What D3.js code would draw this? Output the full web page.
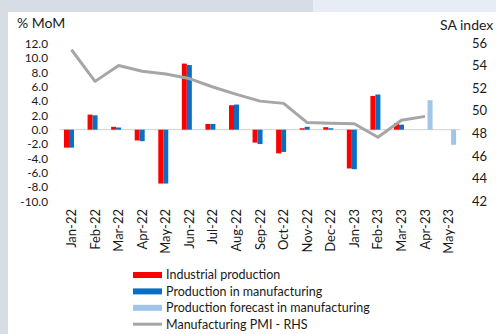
<!DOCTYPE html>
<html>
<head>
<meta charset="utf-8">
<script src="https://cdn.jsdelivr.net/npm/d3@7/dist/d3.min.js"></script>
<style>
  html, body { margin: 0; padding: 0; background: #d6dde5; }
  svg { display: block; font-family: Lato, "Open Sans", sans-serif; }
</style>
</head>
<body>
<svg id="chart" width="496" height="334"></svg>
<script>
// Monthly categories
const months = ["Jan-22","Feb-22","Mar-22","Apr-22","May-22","Jun-22","Jul-22","Aug-22",
                "Sep-22","Oct-22","Nov-22","Dec-22","Jan-23","Feb-23","Mar-23","Apr-23","May-23"];

// % MoM changes (left axis)
const industrial    = [-2.5, 2.1, 0.4, -1.5, -7.5, 9.2, 0.8, 3.4, -1.8, -3.3, 0.2, 0.35, -5.4, 4.7, 0.9, null, null];
const manufacturing = [-2.5, 2.0, 0.3, -1.6, -7.5, 9.0, 0.8, 3.5, -2.0, -3.1, 0.4, 0.2, -5.5, 4.9, 0.7, null, null];
const forecast      = [null, null, null, null, null, null, null, null, null, null, null, null, null, null, null, 4.1, -2.1];

// Manufacturing PMI, SA index (right axis)
const pmi = [55.4, 52.6, 54.0, 53.5, 53.25, 52.85, 52.1, 51.45, 50.85, 50.65, 48.95, 48.9, 48.85, 47.65, 49.15, 49.5, null];

// Axis ticks
const leftTicks  = [-10, -8, -6, -4, -2, 0, 2, 4, 6, 8, 10, 12];
const rightTicks = [42, 44, 46, 48, 50, 52, 54, 56];

const seriesKeys   = ["industrial", "manufacturing", "forecast"];
const seriesData   = { industrial, manufacturing, forecast };
const seriesColors = { industrial: "#ff0000", manufacturing: "#0a6fc2", forecast: "#9fc5e8" };

const legendItems = [
  { label: "Industrial production",               color: "#ff0000", type: "bar" },
  { label: "Production in manufacturing",          color: "#0a6fc2", type: "bar" },
  { label: "Production forecast in manufacturing", color: "#9fc5e8", type: "bar" },
  { label: "Manufacturing PMI - RHS",              color: "#a6a6a6", type: "line" }
];

const svg = d3.select("#chart");

// Page backdrop and white panel
svg.append("rect").attr("x", 313).attr("y", 0).attr("width", 183).attr("height", 12).attr("fill", "#e8edf5");
svg.append("rect").attr("x", 8).attr("y", 12).attr("width", 488).attr("height", 322).attr("fill", "#ffffff");

// Scales
const x = d3.scaleBand().domain(months).range([59.7, 460.4]).padding(0);
const xs = d3.scaleBand().domain(seriesKeys).range([0, x.bandwidth()]).paddingInner(0).paddingOuter(0.86);
const y  = d3.scaleLinear().domain([-10, 12]).range([201.5, 43.5]);
const y2 = d3.scaleLinear().domain([42, 56]).range([201, 43]);

const tickFont = 11.8;
const font = 13;

// Left axis
const yAxis = d3.axisLeft(y).tickValues(leftTicks).tickSize(0).tickPadding(0)
  .tickFormat(d => d.toFixed(1));
const gy = svg.append("g").attr("transform", "translate(48,0)").call(yAxis);
gy.select(".domain").remove();
gy.selectAll("text").attr("font-size", tickFont).attr("fill", "#1a1a1a").attr("font-family", "Lato, sans-serif");

// Right axis
const y2Axis = d3.axisRight(y2).tickValues(rightTicks).tickSize(0).tickPadding(0);
const gy2 = svg.append("g").attr("transform", "translate(472,0)").call(y2Axis);
gy2.select(".domain").remove();
gy2.selectAll("text").attr("font-size", 13).attr("fill", "#1a1a1a").attr("font-family", "Lato, sans-serif");

// Axis titles
svg.append("text").attr("x", 17).attr("y", 28).attr("font-size", 14).attr("fill", "#1a1a1a").text("% MoM");
svg.append("text").attr("x", 440).attr("y", 30).attr("font-size", 14).attr("fill", "#1a1a1a").text("SA index");

// Zero line
svg.append("line")
  .attr("x1", x.range()[0]).attr("x2", x.range()[1])
  .attr("y1", y(0)).attr("y2", y(0))
  .attr("stroke", "#d9d9d9").attr("stroke-width", 1.2);

// Bars
seriesKeys.forEach(key => {
  svg.append("g").selectAll("rect")
    .data(months.map((m, i) => ({ m, v: seriesData[key][i] })).filter(d => d.v !== null))
    .join("rect")
    .attr("x", d => x(d.m) + xs(key))
    .attr("width", xs.bandwidth())
    .attr("y", d => y(Math.max(0, d.v)))
    .attr("height", d => Math.abs(y(d.v) - y(0)))
    .attr("fill", seriesColors[key]);
});

// PMI line
const line = d3.line()
  .defined(d => d.v !== null)
  .x(d => x(d.m) + x.bandwidth() / 2)
  .y(d => y2(d.v));
svg.append("path")
  .datum(months.map((m, i) => ({ m, v: pmi[i] })))
  .attr("d", line)
  .attr("fill", "none")
  .attr("stroke", "#a6a6a6")
  .attr("stroke-width", 3)
  .attr("stroke-linejoin", "round");

// Category labels (rotated)
svg.append("g").selectAll("text")
  .data(months)
  .join("text")
  .attr("transform", d => `translate(${x(d) + x.bandwidth() / 2},209) rotate(-90)`)
  .attr("text-anchor", "end")
  .attr("dy", "0.35em")
  .attr("font-size", font)
  .attr("fill", "#1a1a1a")
  .text(d => d);

// Legend
const lg = svg.append("g");
legendItems.forEach((item, i) => {
  const cy = 275 + i * 16.4;
  if (item.type === "bar") {
    lg.append("rect").attr("x", 133).attr("y", cy - 3).attr("width", 29).attr("height", 6).attr("fill", item.color);
  } else {
    lg.append("line").attr("x1", 133).attr("x2", 162).attr("y1", cy).attr("y2", cy)
      .attr("stroke", item.color).attr("stroke-width", 3);
  }
  lg.append("text").attr("x", 166).attr("y", cy).attr("dy", "0.35em")
    .attr("font-size", 12.5).attr("fill", "#1a1a1a").text(item.label);
});
</script>
</body>
</html>
